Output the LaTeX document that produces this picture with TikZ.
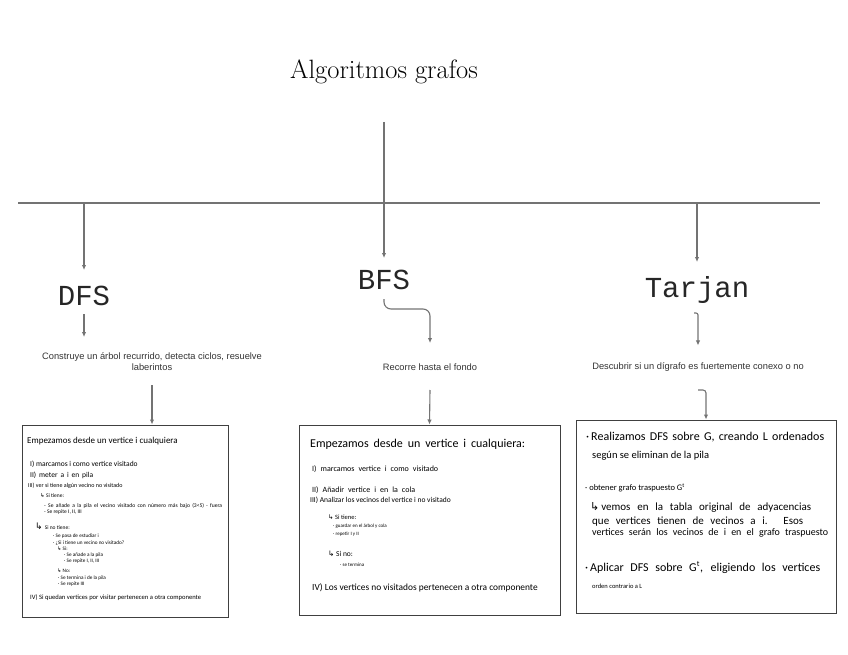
\documentclass[tikz,border=0pt]{standalone}
\usepackage{fontspec}
\usetikzlibrary{arrows.meta}
\newfontfamily\monof{Liberation Mono}
\newfontfamily\ssans{Liberation Sans}
\newfontfamily\hand{Carlito}
\newfontfamily\symf{DejaVu Sans}
\newcommand\hk{{\symf ↳}}
\newcommand\fs[1]{\fontsize{#1}{#1}\selectfont}
\newcommand\wl[2]{\makebox[#1pt][s]{#2}}
\begin{document}
\begin{tikzpicture}[x=1pt,y=-1pt,
  conn/.style={draw=black!55, line width=1.1pt, -{Latex[length=5pt,width=4.5pt]}},
  rule/.style={draw=black!55, line width=1.1pt},
  box/.style={draw=black!75, line width=1pt, inner sep=0pt},
  algo/.style={font=\monof\fs{29}, inner sep=0pt, anchor=base, text=black!85},
  desc/.style={font=\ssans\fontsize{9.3}{11}\selectfont, inner sep=0pt, align=center, text=black!80},
  hl/.style={anchor=base west, inner sep=0pt},
]
\useasboundingbox (0,0) rectangle (848,655);

% title and main structure
\node[font=\fs{26.5}, inner sep=0pt] (title) at (384,72) {Algoritmos grafos};
\coordinate (top) at (384,122);
\coordinate (hL) at (18,203);
\coordinate (hR) at (820,203);
\coordinate (jD) at (84,203);
\coordinate (jT) at (697,203);
\draw[rule] (hL) -- (hR);

% algorithm names
\node[algo] (dfs) at (84,305) {DFS};
\node[algo] (bfs) at (384,289) {BFS};
\node[algo] (tar) at (697,297) {Tarjan};

% descriptions
\node[desc] (dfsd) at (152,362) {Construye un árbol recurrido, detecta ciclos, resuelve\\laberintos};
\node[desc] (bfsd) at (430,367) {Recorre hasta el fondo};
\node[desc] (tard) at (698,367) {Descubrir si un dígrafo es fuertemente conexo o no};

% boxes
\node[box, minimum width=206pt, minimum height=192pt] (dfsbox) at (125,521) {};
\node[box, minimum width=261pt, minimum height=190pt] (bfsbox) at (429.5,520) {};
\node[box, minimum width=260pt, minimum height=193pt] (tarbox) at (706,516.5) {};

% connectors
\draw[conn] (top) -- ([yshift=31pt]bfs.base);
\draw[conn] (jD) -- ([yshift=35pt]dfs.base);
\draw[conn] (jT) -- ([yshift=35pt]tar.base);
\draw[conn] ([yshift=-9pt]dfs.base) -- ++(0,23);
\coordinate (bk) at (430,309);
\draw[conn, rounded corners=7pt] ([yshift=-10pt]bfs.base) |- (bk) -- ++(0,34);
\coordinate (tk) at (694,313);
\draw[conn, rounded corners=2pt] (tk) -| ([yshift=24pt]tard.base);
\coordinate (dS) at (152,385);
\draw[conn] (dS) -- (dS |- dfsbox.north);
\coordinate (bS) at (430,390);
\draw[conn] (bS) -- (bfsbox.north);
\coordinate (tk2) at (698,390);
\draw[conn, rounded corners=3pt] (tk2) -| (tarbox.north);

% DFS box content
\node[hl, font=\hand\fs{9}] (d1) at (27,443) {Empezamos desde un vertice i cualquiera};
\node[hl, font=\hand\fs{7.5}] (d2) at (30,466) {I) marcamos i como vertice visitado};
\node[hl, font=\hand\fs{7.5}] (d3) at (30,477) {\wl{63}{II) meter a i en pila}};
\node[hl, font=\hand\fs{6}] (d4) at (28,487) {III) ver si tiene algún vecino no visitado};
\node[hl, font=\hand\fs{5.5}] (d5) at (40,497) {\hk\ Si tiene:};
\node[hl, font=\hand\fs{5.6}] (d6) at (44,507) {\wl{178}{- Se añade a la pila el vecino visitado con número más bajo (3<5) · fuera}};
\node[hl, font=\hand\fs{5.5}] (d7) at (44,513) {- Se repite I, II, III};
\node[hl, font=\hand\fs{9}] (d8) at (35,529) {\hk\ \fs{5.5}Si no tiene:};
\node[hl, font=\hand\fs{5.2}] (d9) at (53,537) {· Se pasa de estudiar i};
\node[hl, font=\hand\fs{5.2}] (d10) at (53,544) {· ¿Si i tiene un vecino no visitado?};
\node[hl, font=\hand\fs{5.2}] (d11) at (57,550) {\hk\ Si:};
\node[hl, font=\hand\fs{5.2}] (d12) at (64,556) {· Se añade a la pila};
\node[hl, font=\hand\fs{5.2}] (d13) at (64,562) {· Se repite I, II, III};
\node[hl, font=\hand\fs{5.2}] (d14) at (57,572) {\hk\ No:};
\node[hl, font=\hand\fs{5.2}] (d15) at (58,579) {· Se termina i de la pila};
\node[hl, font=\hand\fs{5.2}] (d16) at (58,585) {· Se repite III};
\node[hl, font=\hand\fs{6.6}] (d17) at (30,599) {IV) Si quedan vertices por visitar pertenecen a otra componente};

% BFS box content
\node[hl, font=\hand\fs{12}] (b1) at (310,447) {\wl{215}{Empezamos desde un vertice i cualquiera:}};
\node[hl, font=\hand\fs{8}] (b2) at (312,471) {\wl{126}{I) marcamos vertice i como visitado}};
\node[hl, font=\hand\fs{8}] (b3) at (312,492) {\wl{103}{II) Añadir vertice i en la cola}};
\node[hl, font=\hand\fs{7.5}] (b4) at (310,502) {III) Analizar los vecinos del vertice i no visitado};
\node[hl, font=\hand\fs{6.5}] (b5) at (328,519) {\hk\ Si tiene:};
\node[hl, font=\hand\fs{5}] (b6) at (333,527) {· guardar en el árbol y cola};
\node[hl, font=\hand\fs{5}] (b7) at (333,535) {· repetir I y II};
\node[hl, font=\hand\fs{7.5}] (b8) at (328,556) {\hk\ Si no:};
\node[hl, font=\hand\fs{5}] (b9) at (340,566) {· se termina};
\node[hl, font=\hand\fs{9.4}] (b10) at (312,590) {IV) Los vertices no visitados pertenecen a otra componente};

% Tarjan box content
\node[hl, font=\hand\fs{12}] (t1) at (586,440) {·\,\wl{233}{Realizamos DFS sobre G, creando L ordenados}};
\node[hl, font=\hand\fs{10.5}] (t2) at (592,458) {según se eliminan de la pila};
\node[hl, font=\hand\fs{8.5}] (t3) at (585,490) {· obtener grafo traspuesto G\textsuperscript{t}};
\node[hl, font=\hand\fs{11}] (t4) at (590,510) {\hk\,\wl{210}{vemos en la tabla original de adyacencias}};
\node[hl, font=\hand\fs{11}] (t5) at (592,524) {\wl{211}{que vertices tienen de vecinos a i. Esos}};
\node[hl, font=\hand\fs{10}] (t6) at (592,535) {\wl{236}{vertices serán los vecinos de i en el grafo traspuesto}};
\node[hl, font=\hand\fs{12}] (t7) at (585,571) {·\,\wl{230}{Aplicar DFS sobre G\textsuperscript{t}, eligiendo los vertices}};
\node[hl, font=\hand\fs{6.5}] (t8) at (592,588) {orden contrario a L};
\end{tikzpicture}
\end{document}
